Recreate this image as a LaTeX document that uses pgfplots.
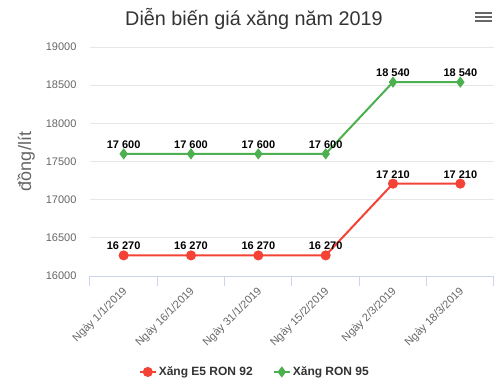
\documentclass[border=0pt]{standalone}
\usepackage{pgfplots}
\pgfplotsset{compat=1.18}
\usepackage{fontspec}
\setmainfont{Liberation Sans}
\definecolor{cred}{HTML}{F44336}
\definecolor{cgreen}{HTML}{4CAF50}
\definecolor{gridc}{HTML}{E6E6E6}
\definecolor{axisc}{HTML}{CCD6EB}
\definecolor{tickc}{HTML}{666666}
\definecolor{titc}{HTML}{333333}
\begin{document}
\begin{tikzpicture}[x=1pt,y=1pt]
\path[use as bounding box] (-90,-105) rectangle (406,276);
\begin{axis}[
  at={(0,0)}, anchor=south west,
  scale only axis, width=404pt, height=229pt,
  xmin=-0.5, xmax=5.5, ymin=16000, ymax=19000,
  xtick={0,...,5},
  xticklabels={Ngày 1/1/2019,Ngày 16/1/2019,Ngày 31/1/2019,Ngày 15/2/2019,Ngày 2/3/2019,Ngày 18/3/2019},
  minor xtick={-0.5,0.5,...,5.5},
  major tick length=0pt,
  minor tick length=10pt,
  tick align=outside,
  xtick pos=lower,
  minor x tick style={axisc, line width=1pt},
  ytick={16000,16500,...,19000},
  scaled y ticks=false,
  ymajorgrids, major grid style={gridc, line width=1pt},
  axis x line*=bottom,
  axis y line*=left,
  y axis line style={draw=none},
  x axis line style={axisc, line width=1pt, -},
  /pgf/number format/1000 sep={},
  /pgf/number format/assume math mode=true,
  yticklabel style={font=\fontsize{11}{13}\selectfont, text=tickc, anchor=east, xshift=-10pt},
  xticklabel style={font=\fontsize{11}{13}\selectfont, text=tickc, rotate=45, anchor=east, yshift=-11pt, xshift=-5pt},
  ylabel={đồng/lít},
  ylabel style={font=\fontsize{18}{20}\selectfont, text=tickc, at={(axis description cs:-0.158,0.5)}, anchor=center},
  every axis title shift=0pt,
  title={Diễn biến giá xăng năm 2019},
  title style={font=\fontsize{19.8}{23}\selectfont, text=titc, at={(axis description cs:0.406,1.124)}, anchor=center},
  nodes near coords={\pgfkeys{/pgf/number format/1000 sep={\ }}\pgfmathprintnumber{\pgfplotspointmeta}},
  every node near coord/.append style={font=\bfseries\fontsize{11}{13}\selectfont, text=black, anchor=south, yshift=1pt},
  legend columns=2,
  legend style={at={(axis description cs:0.408,-0.419)}, anchor=center, draw=none, fill=none,
    font=\bfseries\fontsize{12}{14}\selectfont, text=titc,
    /tikz/every even column/.append style={column sep=18pt}},
  legend image code/.code={
    \draw[#1, line width=2pt] (0pt,0pt) -- (16pt,0pt);
    \draw[#1, mark repeat=1, mark phase=1] plot coordinates {(8pt,0pt)};
  },
  clip=false,
]
\addplot[cred, line width=2pt, mark=*, mark size=4pt, mark options={solid, fill=cred, draw=cred}]
  coordinates {(0,16270) (1,16270) (2,16270) (3,16270) (4,17210) (5,17210)};
\addlegendentry{Xăng E5 RON 92}
\addplot[cgreen, line width=2pt, mark=diamond*, mark size=4pt, mark options={solid, fill=cgreen, draw=cgreen}]
  coordinates {(0,17600) (1,17600) (2,17600) (3,17600) (4,18540) (5,18540)};
\addlegendentry{Xăng RON 95}
\end{axis}
\draw[tickc, line width=2.2pt] (385,263) -- (402,263);
\draw[tickc, line width=2.2pt] (385,259) -- (402,259);
\draw[tickc, line width=2.2pt] (385,255) -- (402,255);
\end{tikzpicture}
\end{document}
